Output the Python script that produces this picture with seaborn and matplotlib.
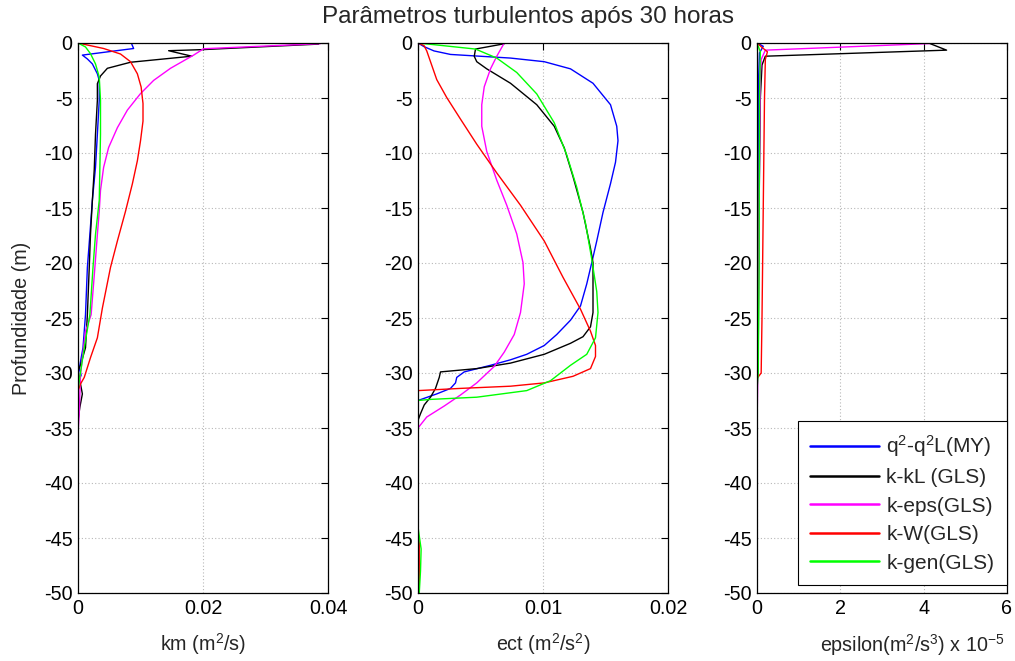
import matplotlib
matplotlib.use("Agg")
import matplotlib.pyplot as plt
import seaborn as sns
import pandas as pd

# ---------------- data ----------------
title = "Parâmetros turbulentos após 30 horas"
series_names = ["q$^2$-q$^2$L(MY)", "k-kL (GLS)", "k-eps(GLS)", "k-W(GLS)", "k-gen(GLS)"]
series_colors = ["#0000ff", "#000000", "#ff00ff", "#ff0000", "#00ff00"]

# Panel 1 : km (m2/s)
km_my_z = [-0.1, -0.5, -1.1, -1.45, -1.9, -2.8, -3.4, -5.2, -8.3, -11.3, -14.3, -17.4, -20.4, -24.7, -27.7, -29.6, -30.2, -30.6, -31.0, -50]
km_my_v = [0.0086, 0.0089, 0.0007, 0.0015, 0.0023, 0.0031, 0.0034, 0.0034, 0.0031, 0.0028, 0.0023, 0.0019, 0.0015, 0.0012, 0.0008, 0.0002, 0.0005, 0.0002, 0.0, 0.0]
km_kl_z = [-0.1, -0.6, -0.7, -1.2, -1.75, -2.3, -3.0, -3.7, -5.2, -8.3, -11.5, -14.3, -17.4, -20.4, -24.7, -27.7, -29.3, -29.8, -31.0, -31.9, -33.1, -34.3, -50]
km_kl_v = [0.0385, 0.0200, 0.0145, 0.0182, 0.0084, 0.0047, 0.0036, 0.0031, 0.0031, 0.0028, 0.0026, 0.0023, 0.0020, 0.0018, 0.0015, 0.0012, 0.0004, 0.0, 0.0004, 0.0007, 0.0003, 0.0, 0.0]
km_eps_z = [-0.06, -0.52, -1.1, -2.3, -3.4, -4.6, -6.1, -7.7, -9.5, -11.3, -13.4, -15.3, -17.4, -20.4, -24.7, -26.2, -30.1, -33.7, -35.5, -50]
km_eps_v = [0.0388, 0.0201, 0.0185, 0.0148, 0.0121, 0.0100, 0.0079, 0.0063, 0.0049, 0.0041, 0.0036, 0.0034, 0.0031, 0.0027, 0.0021, 0.0012, 0.0004, 0.0002, 0.0, 0.0]
km_w_z = [0.0, -0.5, -1.0, -1.7, -2.8, -4.0, -5.5, -7.1, -8.9, -10.7, -12.8, -15.3, -18.0, -20.4, -24.1, -26.8, -28.6, -30.4, -31.0, -31.6, -50]
km_w_v = [0.0, 0.0041, 0.0068, 0.0084, 0.0095, 0.0101, 0.0104, 0.0104, 0.0100, 0.0095, 0.0087, 0.0076, 0.0063, 0.0052, 0.0039, 0.0031, 0.0020, 0.0010, 0.0004, 0.0, 0.0]
km_gen_z = [0.0, -0.36, -0.97, -1.9, -3.1, -5.2, -8.3, -11.3, -14.3, -17.4, -20.4, -24.7, -27.7, -30.7, -31.6, -50]
km_gen_v = [0.0, 0.0012, 0.0020, 0.0028, 0.0034, 0.0036, 0.0036, 0.0035, 0.0034, 0.0028, 0.0024, 0.0019, 0.0010, 0.0002, 0.0, 0.0]

# Panel 2 : ect (m2/s2)
ect_my_z = [0.0, -0.33, -0.72, -1.04, -1.37, -1.70, -2.35, -3.66, -5.61, -7.57, -8.88, -10.84, -12.79, -15.40, -18.0, -19.97, -21.9, -23.9, -25.2, -26.5, -27.5, -28.3, -28.8, -29.3, -29.9, -30.4, -30.9, -31.4, -31.9, -32.5, -50]
ect_my_v = [0.0, 0.00048, 0.00128, 0.0026, 0.0074, 0.0101, 0.0122, 0.0140, 0.0154, 0.0159, 0.0160, 0.0158, 0.0154, 0.0148, 0.0143, 0.0139, 0.0135, 0.0130, 0.0122, 0.0111, 0.0101, 0.0087, 0.0074, 0.0058, 0.0037, 0.0031, 0.0030, 0.0026, 0.0015, 0.0, 0.0]
ect_kl_z = [-0.07, -0.55, -1.21, -1.70, -2.35, -3.66, -5.61, -7.57, -9.53, -12.14, -15.40, -18.67, -19.97, -24.5, -25.8, -26.7, -27.3, -28.3, -29.1, -29.6, -29.9, -30.4, -31.4, -32.2, -32.9, -33.7, -34.3, -50]
ect_kl_v = [0.0069, 0.0046, 0.0045, 0.0047, 0.0055, 0.0074, 0.0095, 0.0109, 0.0117, 0.0124, 0.0132, 0.0138, 0.0140, 0.0140, 0.0138, 0.0132, 0.0122, 0.0101, 0.0074, 0.0047, 0.0018, 0.0017, 0.0014, 0.0010, 0.0005, 0.0002, 0.0, 0.0]
ect_eps_z = [0.0, -1.21, -2.35, -3.98, -5.61, -7.57, -9.86, -12.47, -14.75, -17.36, -19.97, -21.9, -24.5, -26.5, -28.1, -29.4, -30.9, -32.0, -33.0, -34.0, -35.0, -50]
ect_eps_v = [0.0069, 0.0063, 0.0058, 0.0053, 0.0051, 0.0051, 0.0055, 0.0063, 0.0071, 0.0079, 0.0084, 0.0085, 0.0082, 0.0077, 0.0069, 0.0061, 0.0047, 0.0034, 0.0021, 0.0007, 0.0, 0.0]
ect_w_z = [0.0, -0.23, -0.72, -1.70, -3.33, -4.96, -6.92, -9.20, -11.81, -14.75, -18.0, -21.3, -24.2, -26.2, -27.5, -28.5, -29.6, -30.3, -30.9, -31.2, -31.4, -31.6, -44.5, -45.5, -50]
ect_w_v = [0.0, 0.00048, 0.0007, 0.0010, 0.0015, 0.0023, 0.0034, 0.0047, 0.0063, 0.0082, 0.0101, 0.0116, 0.0130, 0.0138, 0.0142, 0.0142, 0.0138, 0.0124, 0.0101, 0.0074, 0.0034, 0.0, 0.0, 0.0001, 0.0001]
ect_gen_z = [0.0, -0.55, -1.37, -2.68, -4.63, -7.25, -10.18, -13.12, -16.38, -19.65, -22.6, -24.5, -26.8, -28.3, -29.3, -30.7, -31.6, -32.2, -32.4, -32.5, -44.0, -46.0, -48.0, -50]
ect_gen_v = [0.0, 0.0046, 0.0063, 0.0079, 0.0095, 0.0109, 0.0119, 0.0127, 0.0134, 0.0139, 0.0143, 0.0144, 0.0142, 0.0135, 0.0122, 0.0106, 0.0087, 0.0047, 0.0010, 0.0, 0.0, 0.00025, 0.0002, 0.0001]

# Panel 3 : epsilon (x 1e-5 m2/s3)
eps_my_z = [0.0, -0.3, -0.9, -3.0, -15.0, -30.0, -31.0, -50]
eps_my_v = [0.0, 0.15, 0.06, 0.04, 0.03, 0.02, 0.0, 0.0]
eps_kl_z = [-0.05, -0.65, -1.2, -2.0, -5.0, -15.0, -28.0, -31.0, -50]
eps_kl_v = [4.15, 4.55, 0.2, 0.12, 0.08, 0.05, 0.03, 0.0, 0.0]
eps_eps_z = [-0.05, -0.65, -1.5, -3.0, -10.0, -20.0, -30.0, -35.0, -50]
eps_eps_v = [4.15, 0.2, 0.1, 0.08, 0.06, 0.04, 0.02, 0.0, 0.0]
eps_w_z = [0.0, -0.4, -0.8, -1.5, -5.0, -15.0, -25.0, -30.0, -30.5, -50]
eps_w_v = [0.0, 0.12, 0.25, 0.2, 0.18, 0.15, 0.12, 0.1, 0.0, 0.0]
eps_gen_z = [0.0, -0.8, -5.0, -20.0, -30.0, -31.5, -50]
eps_gen_v = [0.0, 0.08, 0.06, 0.05, 0.03, 0.0, 0.0]

ylim = (-50, 0)
yticks = [0, -5, -10, -15, -20, -25, -30, -35, -40, -45, -50]
ytick_labels = ["0", "-5", "-10", "-15", "-20", "-25", "-30", "-35", "-40", "-45", "-50"]
p1_xlim = (0, 0.04)
p1_xticks = [0, 0.02, 0.04]
p1_xtick_labels = ["0", "0.02", "0.04"]
p2_xlim = (0, 0.02)
p2_xticks = [0, 0.01, 0.02]
p2_xtick_labels = ["0", "0.01", "0.02"]
p3_xlim = (0, 6)
p3_xticks = [0, 2, 4, 6]
p3_xtick_labels = ["0", "2", "4", "6"]
p1_xlabel = "km (m$^2$/s)"
p2_xlabel = "ect (m$^2$/s$^2$)"
p3_xlabel = "epsilon(m$^2$/s$^3$) x 10$^{-5}$"
ylabel = "Profundidade (m)"

# ---------------- style ----------------
sns.set_style("white")
plt.rcParams["font.family"] = ["Liberation Sans", "DejaVu Sans"]
plt.rcParams["axes.unicode_minus"] = False
plt.rcParams["mathtext.fontset"] = "custom"
plt.rcParams["mathtext.rm"] = "Liberation Sans"
plt.rcParams["mathtext.it"] = "Liberation Sans"
plt.rcParams["mathtext.default"] = "regular"

W, H = 1015, 661
fig = plt.figure(figsize=(W / 100, H / 100), dpi=100)

def frac_axes(left_px, width_px, top_px=43, bottom_px=593):
    return fig.add_axes([left_px / W, 1 - bottom_px / H, width_px / W, (bottom_px - top_px) / H])

ax1 = frac_axes(78, 250)
ax2 = frac_axes(418, 250)
ax3 = frac_axes(757, 250)

panels = [
    (ax1, [(km_my_v, km_my_z), (km_kl_v, km_kl_z), (km_eps_v, km_eps_z), (km_w_v, km_w_z), (km_gen_v, km_gen_z)],
     p1_xlim, p1_xticks, p1_xtick_labels, p1_xlabel),
    (ax2, [(ect_my_v, ect_my_z), (ect_kl_v, ect_kl_z), (ect_eps_v, ect_eps_z), (ect_w_v, ect_w_z), (ect_gen_v, ect_gen_z)],
     p2_xlim, p2_xticks, p2_xtick_labels, p2_xlabel),
    (ax3, [(eps_my_v, eps_my_z), (eps_kl_v, eps_kl_z), (eps_eps_v, eps_eps_z), (eps_w_v, eps_w_z), (eps_gen_v, eps_gen_z)],
     p3_xlim, p3_xticks, p3_xtick_labels, p3_xlabel),
]

FS = 14.2
for ax, curves, xlim, xticks, xtl, xlabel in panels:
    for (v, z), name, col in zip(curves, series_names, series_colors):
        df = pd.DataFrame({"v": v, "z": z})
        sns.lineplot(data=df, x="v", y="z", sort=False, estimator=None, ax=ax,
                     color=col, linewidth=1.0, label=name, legend=False)
    ax.set_xlim(*xlim)
    ax.set_ylim(*ylim)
    ax.set_xticks(xticks)
    ax.set_xticklabels(xtl, fontsize=FS)
    ax.set_yticks(yticks)
    ax.set_yticklabels(ytick_labels, fontsize=FS)
    ax.set_xlabel(xlabel, fontsize=FS, labelpad=10)
    ax.set_ylabel("")
    ax.grid(True, linestyle=(0, (1, 2)), color="#b8b8b8", linewidth=0.8)
    ax.tick_params(direction="in", top=True, right=True, length=5, width=0.8, pad=4, colors="black")
    for s in ax.spines.values():
        s.set_color("black")
        s.set_linewidth(0.9)

ax1.set_ylabel(ylabel, fontsize=FS, labelpad=9)
ax3.xaxis.set_label_coords(0.62, -0.072)

leg = ax3.legend(loc="lower right", bbox_to_anchor=(1.0, 0.0145), fontsize=15,
                 handlelength=3.3, handletextpad=0.35, labelspacing=0.45,
                 borderpad=0.6, borderaxespad=0, fancybox=False, framealpha=1,
                 edgecolor="black")
leg.get_frame().set_linewidth(0.8)
for line in leg.get_lines():
    line.set_linewidth(1.8)

fig.suptitle(title, fontsize=17.5, x=528 / W, y=1 - 17 / H, va="center")

fig.savefig("out.png", dpi=100)
